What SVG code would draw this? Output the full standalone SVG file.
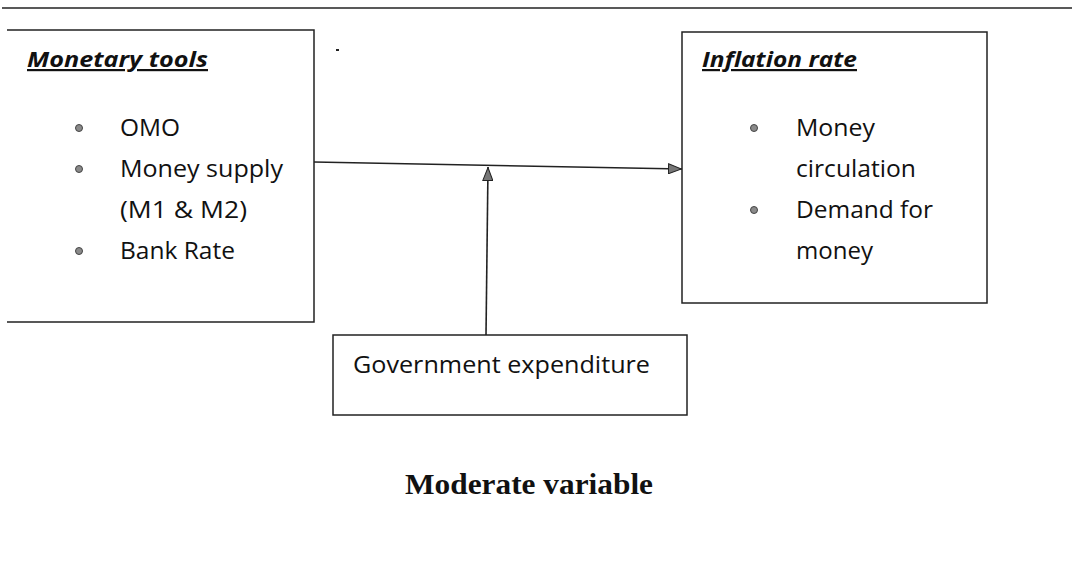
<svg xmlns="http://www.w3.org/2000/svg" width="1072" height="563" viewBox="0 0 1072 563">
<style>
.bg{fill:#fff}
.box{fill:none;stroke:#222;stroke-width:1.5}
.t{font-family:"Open Sans","Liberation Sans",sans-serif;font-size:23px;fill:#111}
.h{font-family:"Open Sans","Liberation Sans",sans-serif;font-size:22px;font-weight:bold;font-style:italic;fill:#111;text-decoration:underline}
.cap{font-family:"Liberation Serif","Times New Roman",serif;font-size:29px;font-weight:bold;fill:#111}
.bul{fill:#8a8a8a;stroke:#444;stroke-width:1}
.con{fill:none;stroke:#222;stroke-width:1.6}
</style>
<defs>
<marker id="arr" viewBox="0 0 14 11" refX="14" refY="5.5" markerWidth="14" markerHeight="11" markerUnits="userSpaceOnUse" orient="auto">
<path d="M0.5,0.5 L13.5,5.5 L0.5,10.5 Z" fill="#777" stroke="#222" stroke-width="1"/>
</marker>
</defs>
<rect class="bg" x="0" y="0" width="1072" height="563"/>
<line x1="2" y1="8" x2="1072" y2="8" stroke="#222" stroke-width="1.5"/>
<line x1="336" y1="50" x2="339" y2="50" stroke="#222" stroke-width="2"/>
<g id="monetary-tools">
<path class="box" d="M7,30 H314 V322 H7"/>
<text class="h" x="27" y="67" textLength="181" lengthAdjust="spacingAndGlyphs">Monetary tools</text>
<circle class="bul" cx="79" cy="128" r="3.5"/>
<circle class="bul" cx="79" cy="169" r="3.5"/>
<circle class="bul" cx="79" cy="251" r="3.5"/>
<text class="t" x="120" y="136" textLength="60" lengthAdjust="spacingAndGlyphs">OMO</text>
<text class="t" x="120" y="177" textLength="163" lengthAdjust="spacingAndGlyphs">Money supply</text>
<text class="t" x="120" y="218" textLength="127" lengthAdjust="spacingAndGlyphs">(M1 &amp; M2)</text>
<text class="t" x="120" y="259" textLength="115" lengthAdjust="spacingAndGlyphs">Bank Rate</text>
</g>
<g id="inflation-rate">
<rect class="box" x="682" y="32" width="305" height="271"/>
<text class="h" x="702" y="67" textLength="155" lengthAdjust="spacingAndGlyphs">Inflation rate</text>
<circle class="bul" cx="754" cy="128" r="3.5"/>
<circle class="bul" cx="754" cy="210" r="3.5"/>
<text class="t" x="796" y="136" textLength="79" lengthAdjust="spacingAndGlyphs">Money</text>
<text class="t" x="796" y="177" textLength="120" lengthAdjust="spacingAndGlyphs">circulation</text>
<text class="t" x="796" y="218" textLength="137" lengthAdjust="spacingAndGlyphs">Demand for</text>
<text class="t" x="796" y="259" textLength="77" lengthAdjust="spacingAndGlyphs">money</text>
</g>
<g id="government-expenditure">
<rect class="box" x="333" y="335" width="354" height="80"/>
<text class="t" x="353" y="373" textLength="297" lengthAdjust="spacingAndGlyphs">Government expenditure</text>
</g>
<g id="connectors">
<line class="con" x1="314" y1="162" x2="682" y2="169" marker-end="url(#arr)"/>
<line class="con" x1="486" y1="335" x2="488" y2="167" marker-end="url(#arr)"/>
</g>
<text class="cap" x="405" y="494" textLength="248" lengthAdjust="spacingAndGlyphs">Moderate variable</text>
</svg>
